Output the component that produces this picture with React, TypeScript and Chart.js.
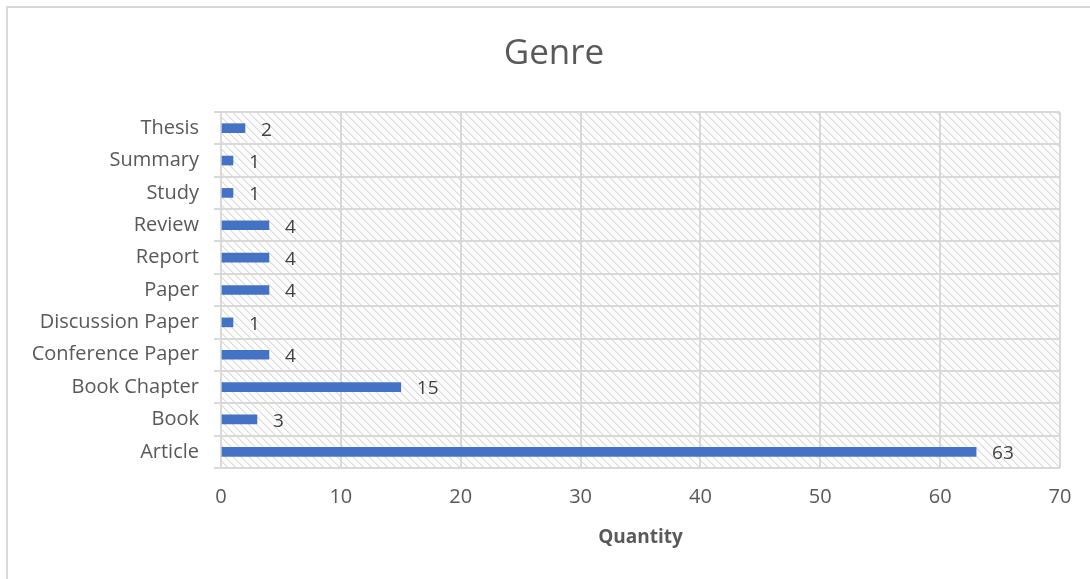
import React, { useEffect, useRef } from "react";
import { Chart, registerables } from "chart.js";

Chart.register(...registerables);

// Genres, listed bottom-to-top
const genres = [
  "Article",
  "Book",
  "Book Chapter",
  "Conference Paper",
  "Discussion Paper",
  "Paper",
  "Report",
  "Review",
  "Study",
  "Summary",
  "Thesis",
];
const quantities = [63, 3, 15, 4, 1, 4, 4, 4, 1, 1, 2];
const xTickMin = 0;
const xTickMax = 70;
const xTickStep = 10;
const chartTitle = "Genre";
const xAxisTitle = "Quantity";

const FONT = "'Open Sans', 'Noto Sans', sans-serif";
const TEXT = "#595959";
const GRID = "#d9d9d9";
const BAR = "#4472c4";

function makeHatch(): CanvasPattern | string {
  const c = document.createElement("canvas");
  c.width = 8;
  c.height = 8;
  const g = c.getContext("2d");
  if (!g) return "#ffffff";
  g.fillStyle = "#ffffff";
  g.fillRect(0, 0, 8, 8);
  for (let y = 0; y < 8; y++) {
    g.fillStyle = "#dcdcdc";
    g.fillRect(y % 8, y, 1, 1);
    g.fillStyle = "#ececec";
    g.fillRect((y + 1) % 8, y, 1, 1);
  }
  const ctx = document.createElement("canvas").getContext("2d");
  return ctx ? (ctx.createPattern(c, "repeat") as CanvasPattern) : "#ffffff";
}

export default function App() {
  const ref = useRef<HTMLCanvasElement | null>(null);

  useEffect(() => {
    if (!ref.current) return;
    const hatch = makeHatch();

    // white page, frame, hatched plot area and heading
    const backdrop = {
      id: "backdrop",
      beforeDraw(chart: any) {
        const { ctx, chartArea, width, height } = chart;
        ctx.save();
        ctx.fillStyle = "#ffffff";
        ctx.fillRect(0, 0, width, height);
        ctx.strokeStyle = GRID;
        ctx.lineWidth = 2;
        ctx.strokeRect(7, 7, 1092, height + 20);
        ctx.fillStyle = hatch;
        ctx.fillRect(
          chartArea.left,
          chartArea.top,
          chartArea.right - chartArea.left,
          chartArea.bottom - chartArea.top
        );
        ctx.fillStyle = TEXT;
        ctx.font = `35px ${FONT}`;
        ctx.textAlign = "center";
        ctx.textBaseline = "middle";
        ctx.fillText(chartTitle, 554, 54);
        ctx.restore();
      },
    };

    // value labels right of each bar
    const valueLabels = {
      id: "valueLabels",
      afterDatasetsDraw(chart: any) {
        const { ctx } = chart;
        const meta = chart.getDatasetMeta(0);
        ctx.save();
        ctx.fillStyle = "#404040";
        ctx.font = `19px ${FONT}`;
        ctx.textAlign = "left";
        ctx.textBaseline = "middle";
        meta.data.forEach((el: any, i: number) => {
          ctx.fillText(String(quantities[i]), el.x + 16, el.y + 2);
        });
        ctx.restore();
      },
    };

    const chart = new Chart(ref.current, {
      type: "bar",
      data: {
        labels: genres,
        datasets: [
          {
            data: quantities,
            backgroundColor: BAR,
            barThickness: 9,
          },
        ],
      },
      options: {
        indexAxis: "y",
        responsive: false,
        animation: false,
        layout: { padding: { top: 112, left: 0, right: 30, bottom: 0 } },
        plugins: {
          legend: { display: false },
          tooltip: { enabled: false },
          title: { display: false },
        },
        scales: {
          x: {
            min: xTickMin,
            max: xTickMax,
            afterFit: (s: any) => {
              s.height = 111;
            },
            ticks: {
              stepSize: xTickStep,
              color: TEXT,
              font: { family: FONT, size: 20 },
              padding: 17,
            },
            grid: { color: GRID, lineWidth: 2, drawTicks: false },
            border: { display: false },
            title: {
              display: true,
              text: xAxisTitle,
              color: TEXT,
              font: { family: FONT, size: 19, weight: "bold" },
              padding: { top: 0, bottom: 30 },
            },
          },
          y: {
            reverse: true,
            afterFit: (s: any) => {
              s.width = 221;
            },
            ticks: {
              color: TEXT,
              font: { family: FONT, size: 20 },
              padding: 15,
            },
            grid: { color: GRID, lineWidth: 2, tickLength: 7, offset: true },
            border: { color: GRID, width: 2 },
          },
        },
      },
      plugins: [backdrop, valueLabels],
    } as any);

    return () => chart.destroy();
  }, []);

  return (
    <div style={{ position: "fixed", left: 0, top: 0, width: 1090, height: 579, overflow: "hidden", background: "#fff" }}>
      <canvas ref={ref} width={1090} height={579} style={{ display: "block" }} />
    </div>
  );
}
